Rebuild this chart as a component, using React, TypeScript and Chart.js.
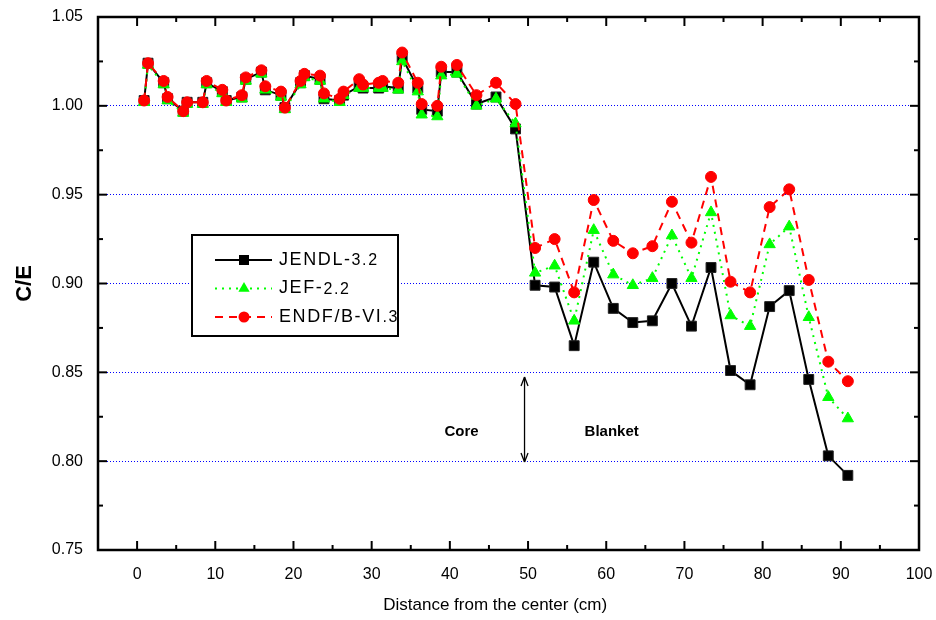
import React, { useEffect, useRef } from 'react';
import { Chart, registerables } from 'chart.js';

Chart.register(...registerables);

// Distance from the core centre (cm)
const distance = [
  0.9, 1.4, 3.4, 3.9, 5.9, 6.4, 8.4, 8.9, 10.9, 11.4, 13.4, 13.9, 15.9, 16.4,
  18.4, 18.9, 20.9, 21.4, 23.4, 23.9, 25.9, 26.4, 28.4, 28.9, 30.9, 31.4,
  33.4, 33.9, 35.9, 36.4, 38.4, 38.9, 40.9, 43.4, 45.9, 48.4,
  50.9, 53.4, 55.9, 58.4, 60.9, 63.4, 65.9, 68.4, 70.9, 73.4, 75.9, 78.4,
  80.9, 83.4, 85.9, 88.4, 90.9,
];

const jendl = [
  1.003, 1.024, 1.013, 1.004, 0.997, 1.002, 1.002, 1.013, 1.008, 1.003, 1.005, 1.015, 1.019, 1.009,
  1.006, 0.999, 1.013, 1.017, 1.015, 1.004, 1.003, 1.006, 1.011, 1.010, 1.010, 1.011,
  1.010, 1.027, 1.010, 0.998, 0.997, 1.019, 1.019, 1.001, 1.005, 0.987,
  0.899, 0.898, 0.865, 0.912, 0.886, 0.878, 0.879, 0.900, 0.876, 0.909, 0.851, 0.843,
  0.887, 0.896, 0.846, 0.803, 0.792,
];

const jef = [
  1.002, 1.023, 1.012, 1.003, 0.996, 1.001, 1.001, 1.012, 1.007, 1.002, 1.004, 1.014, 1.018, 1.009,
  1.005, 0.998, 1.012, 1.016, 1.014, 1.004, 1.002, 1.006, 1.010, 1.010, 1.010, 1.010,
  1.009, 1.025, 1.008, 0.995, 0.994, 1.017, 1.018, 1.000, 1.004, 0.990,
  0.906, 0.910, 0.879, 0.930, 0.905, 0.899, 0.903, 0.927, 0.903, 0.940, 0.882, 0.876,
  0.922, 0.932, 0.881, 0.836, 0.824,
];

const endf = [
  1.003, 1.024, 1.014, 1.005, 0.997, 1.002, 1.002, 1.014, 1.009, 1.003, 1.006, 1.016, 1.020, 1.011,
  1.008, 0.999, 1.014, 1.018, 1.017, 1.007, 1.004, 1.008, 1.015, 1.012, 1.013, 1.014,
  1.013, 1.030, 1.013, 1.001, 1.000, 1.022, 1.023, 1.006, 1.013, 1.001,
  0.920, 0.925, 0.895, 0.947, 0.924, 0.917, 0.921, 0.946, 0.923, 0.960, 0.901, 0.895,
  0.943, 0.953, 0.902, 0.856, 0.845,
];

const seriesNames = ['JENDL-', 'JEF-', 'ENDF/B-VI'];
const seriesSuffix = ['3.2', '2.2', '.3'];
const seriesLabels = ['JENDL-3.2', 'JEF-2.2', 'ENDF/B-VI.3'];
const xTitle = 'Distance from the center (cm)';
const yTitle = 'C/E';
const coreText = 'Core';
const blanketText = 'Blanket';

// annotation anchors in data units
const boundaryX = 49.55;
const arrowTopY = 0.8474;
const arrowBottomY = 0.7995;
const noteY = 0.8164;
const coreX = 41.5;
const blanketX = 60.7;
const xTitleCenter = 45.8;

const FONT = "'Liberation Sans', Arial, Helvetica, sans-serif";

const COLORS = ['#000000', '#00ff00', '#ff0000'];

const pts = (ys: number[]) => ys.map((y, i) => ({ x: distance[i], y }));

function drawMarker(ctx: CanvasRenderingContext2D, kind: number, cx: number, cy: number) {
  ctx.fillStyle = COLORS[kind];
  ctx.beginPath();
  if (kind === 0) {
    ctx.rect(cx - 5, cy - 5, 10, 10);
  } else if (kind === 1) {
    const r = 6.5;
    ctx.moveTo(cx, cy - r);
    ctx.lineTo(cx + r * 0.866, cy + r * 0.5);
    ctx.lineTo(cx - r * 0.866, cy + r * 0.5);
    ctx.closePath();
  } else {
    ctx.arc(cx, cy, 5.5, 0, Math.PI * 2);
  }
  ctx.fill();
}

const decorPlugin = {
  id: 'decor',
  afterDatasetsDraw(chart: any) {
    const { ctx, chartArea: a, scales } = chart;
    const x = scales.x;
    const y = scales.y;
    ctx.save();
    ctx.setLineDash([]);
    ctx.strokeStyle = '#000';
    ctx.lineWidth = 2;
    const seg = (x1: number, y1: number, x2: number, y2: number) => {
      ctx.beginPath();
      ctx.moveTo(x1, y1);
      ctx.lineTo(x2, y2);
      ctx.stroke();
    };
    // inward ticks, bottom & top
    for (let v = 0; v < 100; v += 5) {
      const px = x.getPixelForValue(v);
      const len = v % 10 === 0 ? 9 : 5;
      seg(px, a.bottom, px, a.bottom - len);
      seg(px, a.top, px, a.top + len);
    }
    // inward ticks, left & right
    for (let i = 1; i < 12; i++) {
      const py = y.getPixelForValue(0.75 + i * 0.025);
      const len = i % 2 === 0 ? 9 : 5;
      seg(a.left, py, a.left + len, py);
      seg(a.right, py, a.right - len, py);
    }
    // frame
    ctx.lineWidth = 2.5;
    ctx.strokeRect(a.left, a.top, a.right - a.left, a.bottom - a.top);

    // x axis title
    ctx.fillStyle = '#000';
    ctx.font = `17px ${FONT}`;
    ctx.textAlign = 'center';
    ctx.textBaseline = 'middle';
    ctx.fillText(xTitle, x.getPixelForValue(xTitleCenter), chart.height - 15);

    // Core / Blanket boundary arrow
    const bx = x.getPixelForValue(boundaryX);
    const t = y.getPixelForValue(arrowTopY);
    const b = y.getPixelForValue(arrowBottomY);
    ctx.lineWidth = 1.3;
    seg(bx, t, bx, b);
    seg(bx, t, bx - 3.5, t + 9);
    seg(bx, t, bx + 3.5, t + 9);
    seg(bx, b, bx - 3.5, b - 9);
    seg(bx, b, bx + 3.5, b - 9);
    ctx.fillStyle = '#000';
    ctx.font = `bold 15px ${FONT}`;
    ctx.textAlign = 'center';
    ctx.textBaseline = 'middle';
    const ny = y.getPixelForValue(noteY);
    ctx.fillText(coreText, x.getPixelForValue(coreX), ny);
    ctx.fillText(blanketText, x.getPixelForValue(blanketX), ny);

    // legend box
    const L = a.left + 94;
    const T = a.top + 218;
    const W = 206;
    const H = 101;
    ctx.fillStyle = '#fff';
    ctx.fillRect(L, T, W, H);
    ctx.lineWidth = 2;
    ctx.strokeStyle = '#000';
    ctx.strokeRect(L, T, W, H);
    const dashes = [[], [2, 5], [8, 6]];
    for (let k = 0; k < 3; k++) {
      const ry = T + 25 + k * 28.5;
      ctx.strokeStyle = COLORS[k];
      ctx.lineWidth = 2;
      ctx.setLineDash(dashes[k]);
      seg(L + 23, ry, L + 80, ry);
      ctx.setLineDash([]);
      drawMarker(ctx, k, L + 52, ry);
      ctx.fillStyle = '#000';
      ctx.textAlign = 'left';
      ctx.textBaseline = 'middle';
      (ctx as any).letterSpacing = '1.6px';
      ctx.font = `18px ${FONT}`;
      const tx = L + 87;
      ctx.fillText(seriesNames[k], tx, ry);
      const w = ctx.measureText(seriesNames[k]).width;
      ctx.font = `16px ${FONT}`;
      ctx.fillText(seriesSuffix[k], tx + w, ry + 1);
      (ctx as any).letterSpacing = '0px';
    }
    ctx.restore();
  },
};

const noEdgePadding = (s: any) => {
  s.paddingTop = 0;
  s.paddingBottom = 0;
  s.paddingLeft = 0;
  s.paddingRight = 0;
};

export default function App() {
  const ref = useRef<HTMLCanvasElement | null>(null);
  useEffect(() => {
    if (!ref.current) return;
    const chart = new Chart(ref.current, {
      type: 'line',
      data: {
        datasets: [
          {
            label: seriesLabels[0],
            data: pts(jendl),
            borderColor: COLORS[0],
            backgroundColor: COLORS[0],
            borderWidth: 2,
            pointStyle: 'rect',
            pointRadius: 7,
            pointBorderWidth: 1,
            pointBorderColor: '#222',
            order: 3,
          },
          {
            label: seriesLabels[1],
            data: pts(jef),
            borderColor: COLORS[1],
            backgroundColor: COLORS[1],
            borderWidth: 2,
            borderDash: [2, 5],
            pointStyle: 'triangle',
            pointRadius: 6.5,
            pointBorderWidth: 1,
            order: 2,
          },
          {
            label: seriesLabels[2],
            data: pts(endf),
            borderColor: COLORS[2],
            backgroundColor: COLORS[2],
            borderWidth: 2,
            borderDash: [8, 6],
            pointStyle: 'circle',
            pointRadius: 5.5,
            pointBorderWidth: 1,
            order: 1,
          },
        ],
      },
      options: {
        responsive: false,
        animation: false,
        layout: { padding: { top: 17, right: 17, left: 0, bottom: 0 } },
        plugins: { legend: { display: false }, tooltip: { enabled: false } },
        scales: {
          x: {
            type: 'linear',
            min: -5,
            max: 100,
            afterBuildTicks: (s: any) => {
              s.ticks = s.ticks.filter((t: any) => t.value % 10 === 0);
            },
            afterFit: (s: any) => {
              s.height = 70;
              noEdgePadding(s);
            },
            ticks: {
              stepSize: 10,
              color: '#000',
              padding: 15,
              maxRotation: 0,
              autoSkip: false,
              font: { family: FONT, size: 16 },
            },
            grid: { display: false, drawTicks: false },
            border: { display: false },
            title: { display: false, text: xTitle },
          },
          y: {
            type: 'linear',
            min: 0.75,
            max: 1.05,
            afterFit: (s: any) => {
              s.width = 98;
              noEdgePadding(s);
            },
            ticks: {
              stepSize: 0.05,
              color: '#000',
              padding: 15,
              font: { family: FONT, size: 16 },
              callback: (v: any) => Number(v).toFixed(2),
            },
            grid: { color: '#0000ff', lineWidth: 1, drawTicks: false },
            border: { display: false, dash: [1, 2] },
            title: {
              display: true,
              text: yTitle,
              color: '#000',
              font: { family: FONT, size: 22, weight: 'bold' },
              padding: { top: 12, bottom: 0 },
            },
          },
        },
      },
      plugins: [decorPlugin],
    } as any);
    return () => chart.destroy();
  }, []);

  return (
    <div style={{ position: 'absolute', left: 0, top: 0, width: 936, height: 620, background: '#fff' }}>
      <canvas ref={ref} width={936} height={620} style={{ display: 'block' }} />
    </div>
  );
}
